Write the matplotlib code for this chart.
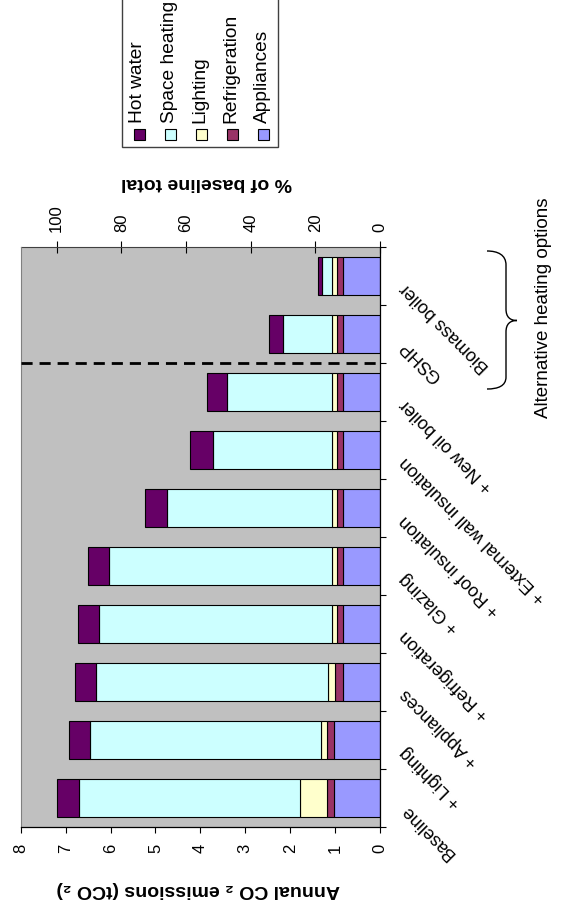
import numpy as np
import matplotlib
matplotlib.use('Agg')
import matplotlib.pyplot as plt
import matplotlib.transforms as mtransforms
from matplotlib.patches import Rectangle, PathPatch
from matplotlib.path import Path

plt.rcParams['font.family'] = ['Liberation Sans', 'DejaVu Sans']

# measures, from the baseline house to the alternative heating systems
categories = ['Baseline', '+ Lighting', '+ Appliances', '+ Refrigeration', '+ Glazing',
              '+ Roof insulation', '+ External wall insulation', '+ New oil boiler',
              'GSHP', 'Biomass boiler']

# annual CO2 emissions by end use (tCO2)
appliances    = [1.02, 1.02, 0.83, 0.83, 0.83, 0.83, 0.83, 0.83, 0.83, 0.83]
refrigeration = [0.16, 0.16, 0.18, 0.12, 0.12, 0.12, 0.12, 0.12, 0.12, 0.12]
lighting      = [0.60, 0.14, 0.14, 0.12, 0.12, 0.12, 0.12, 0.12, 0.12, 0.12]
space_heating = [4.92, 5.14, 5.17, 5.19, 4.97, 3.67, 2.65, 2.34, 1.09, 0.23]
hot_water     = [0.50, 0.47, 0.48, 0.47, 0.46, 0.50, 0.50, 0.44, 0.31, 0.07]

series_names = ['Hot water', 'Space heating', 'Lighting', 'Refrigeration', 'Appliances']
series_colors = ['#660066', '#CCFFFF', '#FFFFCC', '#993366', '#9999FF']

W, H = 566, 912
fig = plt.figure(figsize=(W / 100, H / 100), dpi=100)
# pixel coordinates measured from the top-left corner
pix = mtransforms.Affine2D().scale(1 / W, -1 / H).translate(0, 1) + fig.transFigure

ax = fig.add_axes([20.7 / W, (H - 828) / H, (380 - 20.7) / W, 580 / H])
ax.set_facecolor('#C0C0C0')

# stacked bars, drawn from the axis outwards
stack = [appliances, refrigeration, lighting, space_heating, hot_water]
stack_colors = series_colors[::-1]
y = np.arange(len(categories))
left = np.zeros(len(categories))
for vals, col in zip(stack, stack_colors):
    vals = np.array(vals)
    ax.barh(y, vals, left=left, height=0.66, color=col, edgecolor='black', linewidth=0.8, zorder=2)
    left += vals

baseline_total = left[0]

ax.set_xlim(8, 0)
ax.set_ylim(-0.5, len(categories) - 0.5)
ax.set_xticks(np.arange(0, 9, 1))
ax.tick_params(axis='x', direction='out', length=4, width=0.8, labelsize=12, pad=7, labelrotation=90)

ax.yaxis.tick_right()
ax.set_yticks(np.arange(-0.5, len(categories), 1))
ax.set_yticklabels([])
ax.tick_params(axis='y', direction='out', length=4, width=0.8)

ax.spines['left'].set_color('#808080')
ax.spines['top'].set_visible(False)
for s in ['bottom', 'right']:
    ax.spines[s].set_color('black')
    ax.spines[s].set_linewidth(0.9)

# secondary axis as a share of the baseline total
secax = ax.secondary_xaxis('top', functions=(lambda v: v / baseline_total * 100,
                                             lambda p: p * baseline_total / 100))
secax.set_xticks(np.arange(0, 101, 20))
secax.tick_params(direction='inout', length=8.6, width=0.8, labelsize=12, pad=7, labelrotation=90)
secax.spines['top'].set_color('#404040')

# separator between the fabric measures and the alternative heating options
ax.axhline(7.5, color='black', lw=2, dashes=(4, 2.5), zorder=3)

for i, lab in enumerate(categories):
    ax.annotate(lab, xy=(1, i), xycoords=('axes fraction', 'data'),
                xytext=(16.5, -6), textcoords='offset points',
                rotation=135, rotation_mode='anchor', ha='right', va='center',
                fontsize=13, annotation_clip=False)

fig.text(198, 890, 'Annual CO ₂ emissions (tCO ₂)', transform=pix, rotation=180,
         ha='center', va='center', fontsize=14, fontweight='bold')
fig.text(207, 183, '% of baseline total', transform=pix, rotation=180,
         ha='center', va='center', fontsize=14, fontweight='bold')

# brace around the alternative heating options
verts = [(487, 252), (498, 252), (506, 256), (506, 266),
         (506, 310),
         (506, 318), (510, 321.5), (517, 321.5),
         (510, 321.5), (506, 325), (506, 333),
         (506, 378),
         (506, 387), (498, 390), (487, 390)]
codes = [Path.MOVETO, Path.CURVE4, Path.CURVE4, Path.CURVE4,
         Path.LINETO,
         Path.CURVE4, Path.CURVE4, Path.CURVE4,
         Path.CURVE4, Path.CURVE4, Path.CURVE4,
         Path.LINETO,
         Path.CURVE4, Path.CURVE4, Path.CURVE4]
fig.add_artist(PathPatch(Path(verts, codes), fill=False, lw=1.0, ec='black', transform=pix))
fig.text(543, 308, 'Alternative heating options', transform=pix, rotation=90,
         ha='center', va='center', fontsize=13.5)

# legend
fig.add_artist(Rectangle((122, -10), 156, 158, fc='white', ec='#404040', lw=1.0, transform=pix))
for k, (name, col) in enumerate(zip(series_names, series_colors)):
    cx = 139 + 31 * k
    fig.add_artist(Rectangle((cx - 5.5, 130), 11, 11, fc=col, ec='black', lw=0.8, transform=pix))
    fig.text(cx - 1, 123, name, transform=pix, rotation=90, ha='center', va='bottom', fontsize=13.8)

fig.savefig('out.png', dpi=100)
